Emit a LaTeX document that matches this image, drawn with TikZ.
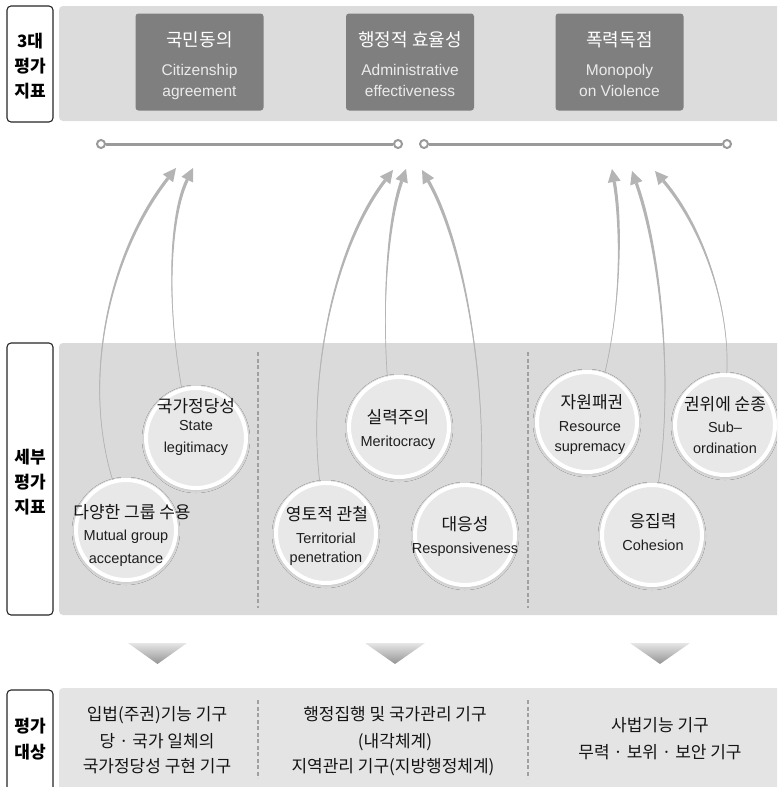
\documentclass[tikz,border=0pt]{standalone}
\usepackage{fontspec}
\setmainfont{Liberation Sans}
\newfontfamily\kr{Noto Sans CJK KR}
\usetikzlibrary{calc,shadows.blur}

\definecolor{bandtop}{HTML}{DCDCDC}
\definecolor{bandmid}{HTML}{DADADA}
\definecolor{bandbot}{HTML}{E4E4E4}
\definecolor{hdrfill}{HTML}{7F7F7F}
\definecolor{linegray}{HTML}{9A9A9A}
\definecolor{arrowgray}{HTML}{B4B4B4}
\definecolor{dashgray}{HTML}{A0A0A0}
\definecolor{circfill}{HTML}{E8E8E8}

% tapered curved arrow: start, control 1, control 2, tip
\newcommand\taperarrow[4]{%
  \coordinate (ts) at (#1);
  \coordinate (tc1) at (#2);
  \coordinate (tc2) at (#3);
  \coordinate (tt) at (#4);
  \coordinate (te) at ($(tt)!13pt!(tc2)$);
  \coordinate (tl) at ($(te)!1.6pt!90:(tc2)$);
  \coordinate (tr) at ($(te)!1.6pt!-90:(tc2)$);
  \coordinate (hl) at ($(te)!6.5pt!90:(tc2)$);
  \coordinate (hr) at ($(te)!6.5pt!-90:(tc2)$);
  \fill[arrowgray] (ts) .. controls (tc1) and ($(tc2)+(tl)-(te)$) .. (tl)
     -- (tr) .. controls ($(tc2)+(tr)-(te)$) and (tc1) .. (ts) -- cycle;
  \draw[arrowgray, line width=0.7] (ts) .. controls (tc1) and (tc2) .. (te);
  \fill[arrowgray] (tt) -- (hl) -- (hr) -- cycle;
}

\begin{document}
\begin{tikzpicture}[x=1pt,y=-1pt,
  lblbox/.style={draw=black!85, line width=1.1, fill=white, rounded corners=4},
  band/.style={rounded corners=4},
  hdrbox/.style={fill=hdrfill, rounded corners=3, minimum width=128, minimum height=97, inner sep=0},
  hdrkr/.style={font=\kr\fontsize{18}{20}\selectfont, text=white, anchor=base, inner sep=0},
  hdren/.style={font=\fontsize{15.5}{18}\selectfont, text=white!92!black, anchor=base, inner sep=0},
  lbltxt/.style={font=\kr\bfseries\fontsize{17}{20}\selectfont, text=black, anchor=base, inner sep=0},
  cirkr/.style={font=\kr\fontsize{17}{19}\selectfont, text=black!92, anchor=base, inner sep=0},
  ciren/.style={font=\fontsize{14.5}{17}\selectfont, text=black!88, anchor=base, inner sep=0},
  bottxt/.style={font=\kr\fontsize{17}{19}\selectfont, text=black!92, anchor=base, inner sep=0},
  dot/.style={circle, draw=linegray, line width=2, fill=white, minimum size=8, inner sep=0},
  seg/.style={draw=linegray, line width=3},
  sep/.style={draw=dashgray, line width=1.2, dash pattern=on 4pt off 2.5pt},
  circnode/.style={circle, minimum size=100, inner sep=0, draw=white, line width=4, fill=circfill,
    blur shadow={shadow xshift=0pt, shadow yshift=-1pt, shadow blur radius=4pt, shadow opacity=18}},
  downtri/.style={top color=black!10, bottom color=black!42}
]
\useasboundingbox (0,0) rectangle (777,787);
\clip (0,0) rectangle (777,787);

% ---------- top row: three main criteria ----------
\draw[lblbox] (7,6) rectangle (53,122);
\node[lbltxt] at (30,47) {3대};
\node[lbltxt] at (30,72) {평가};
\node[lbltxt] at (30,97) {지표};

\fill[bandtop, band] (59,6) rectangle (800,121);

\node[hdrbox] (cit) at (199.5,62) {};
\node[hdrbox] (adm) at (410,62) {};
\node[hdrbox] (mon) at (619.5,62) {};

\node[hdrkr] at (199.5,46) {국민동의};
\node[hdren] at (199.5,75) {Citizenship};
\node[hdren] at (199.5,96) {agreement};

\node[hdrkr] at (410,46) {행정적 효율성};
\node[hdren] at (410,75) {Administrative};
\node[hdren] at (410,96) {effectiveness};

\node[hdrkr] at (619.5,46) {폭력독점};
\node[hdren] at (619.5,75) {Monopoly};
\node[hdren] at (619.5,96) {on Violence};

% ---------- connector bar ----------
\node[dot] (p1) at (101,144) {};
\node[dot] (p2) at (398,144) {};
\node[dot] (p3) at (424,144) {};
\node[dot] (p4) at (727,144) {};
\draw[seg] (p1) -- (p2);
\draw[seg] (p3) -- (p4);

% ---------- middle row: detailed criteria ----------
\draw[lblbox] (7,343) rectangle (53,615);
\node[lbltxt] at (30,463) {세부};
\node[lbltxt] at (30,488) {평가};
\node[lbltxt] at (30,513) {지표};

\fill[bandmid, band] (59,343) rectangle (800,615);
\draw[sep] (258,352) -- (258,608);
\draw[sep] (528,352) -- (528,608);

\coordinate (mutual) at (126,530);
\coordinate (statel) at (196,438);
\coordinate (terr) at (326,533);
\coordinate (merit) at (399,427);
\coordinate (resp) at (465,535);
\coordinate (resrc) at (587,422);
\coordinate (subord) at (725,425);
\coordinate (cohes) at (652,535);

\node[circnode] (cMutual) at (mutual) {};
\node[circnode] (cState) at (statel) {};
\node[circnode] (cTerr) at (terr) {};
\node[circnode] (cMerit) at (merit) {};
\node[circnode] (cResp) at (resp) {};
\node[circnode] (cRes) at (resrc) {};
\node[circnode] (cSub) at (subord) {};
\node[circnode] (cCoh) at (cohes) {};

% arrow tips under the connector bar
\coordinate (tipA) at (176,168);
\coordinate (tipB) at (193,168);
\coordinate (tipC) at (393,170);
\coordinate (tipD) at (406,169);
\coordinate (tipE) at (422,170);
\coordinate (tipF) at (612,169);
\coordinate (tipG) at (632,171);
\coordinate (tipH) at (655,171);

\taperarrow{cMutual.105}{82,380}{108,255}{tipA}
\taperarrow{cState.106}{166,300}{170,215}{tipB}
\taperarrow{cTerr.97}{308,380}{332,250}{tipC}
\taperarrow{cMerit.103}{382,300}{388,220}{tipD}
\taperarrow{cResp.72}{486,370}{462,240}{tipE}
\taperarrow{cRes.70}{622,300}{621,220}{tipF}
\taperarrow{cCoh.83}{674,380}{660,250}{tipG}
\taperarrow{cSub.88}{730,310}{705,230}{tipH}

% circle captions
\node[cirkr] at (196,412) {국가정당성};
\node[ciren] at (196,430) {State};
\node[ciren] at (196,452) {legitimacy};

\node[cirkr] at (132,518) {다양한 그룹 수용};
\node[ciren] at (126,540) {Mutual group};
\node[ciren] at (126,563) {acceptance};

\node[cirkr] at (398,423) {실력주의};
\node[ciren] at (398,446) {Meritocracy};

\node[cirkr] at (327,520) {영토적 관철};
\node[ciren] at (326,543) {Territorial};
\node[ciren] at (326,562) {penetration};

\node[cirkr] at (465,530) {대응성};
\node[ciren] at (465,553) {Responsiveness};

\node[cirkr] at (592,408) {자원패권};
\node[ciren] at (590,431) {Resource};
\node[ciren] at (590,451) {supremacy};

\node[cirkr] at (725,410) {권위에 순종};
\node[ciren] at (725,432) {Sub–};
\node[ciren] at (725,453) {ordination};

\node[cirkr] at (653,527) {응집력};
\node[ciren] at (653,550) {Cohesion};

% ---------- down markers ----------
\shade[downtri] (128,643) -- (187,643) -- (157.5,664) -- cycle;
\shade[downtri] (365,643) -- (425,643) -- (395,664) -- cycle;
\shade[downtri] (630,643) -- (690,643) -- (660,664) -- cycle;

% ---------- bottom row: evaluation targets ----------
\draw[lblbox] (7,690) rectangle (53,800);
\node[lbltxt] at (30,732) {평가};
\node[lbltxt] at (30,758) {대상};

\fill[bandbot, band] (59,688) rectangle (800,800);
\draw[sep] (258,700) -- (258,778);
\draw[sep] (528,700) -- (528,778);

\node[bottxt] at (157,720) {입법(주권)기능 기구};
\node[bottxt] at (157,747) {당 · 국가 일체의};
\node[bottxt] at (157,772) {국가정당성 구현 기구};

\node[bottxt] at (395,720) {행정집행 및 국가관리 기구};
\node[bottxt] at (395,747) {(내각체계)};
\node[bottxt] at (393,772) {지역관리 기구(지방행정체계)};

\node[bottxt] at (660,731) {사법기능 기구};
\node[bottxt] at (660,758) {무력 · 보위 · 보안 기구};
\end{tikzpicture}
\end{document}
